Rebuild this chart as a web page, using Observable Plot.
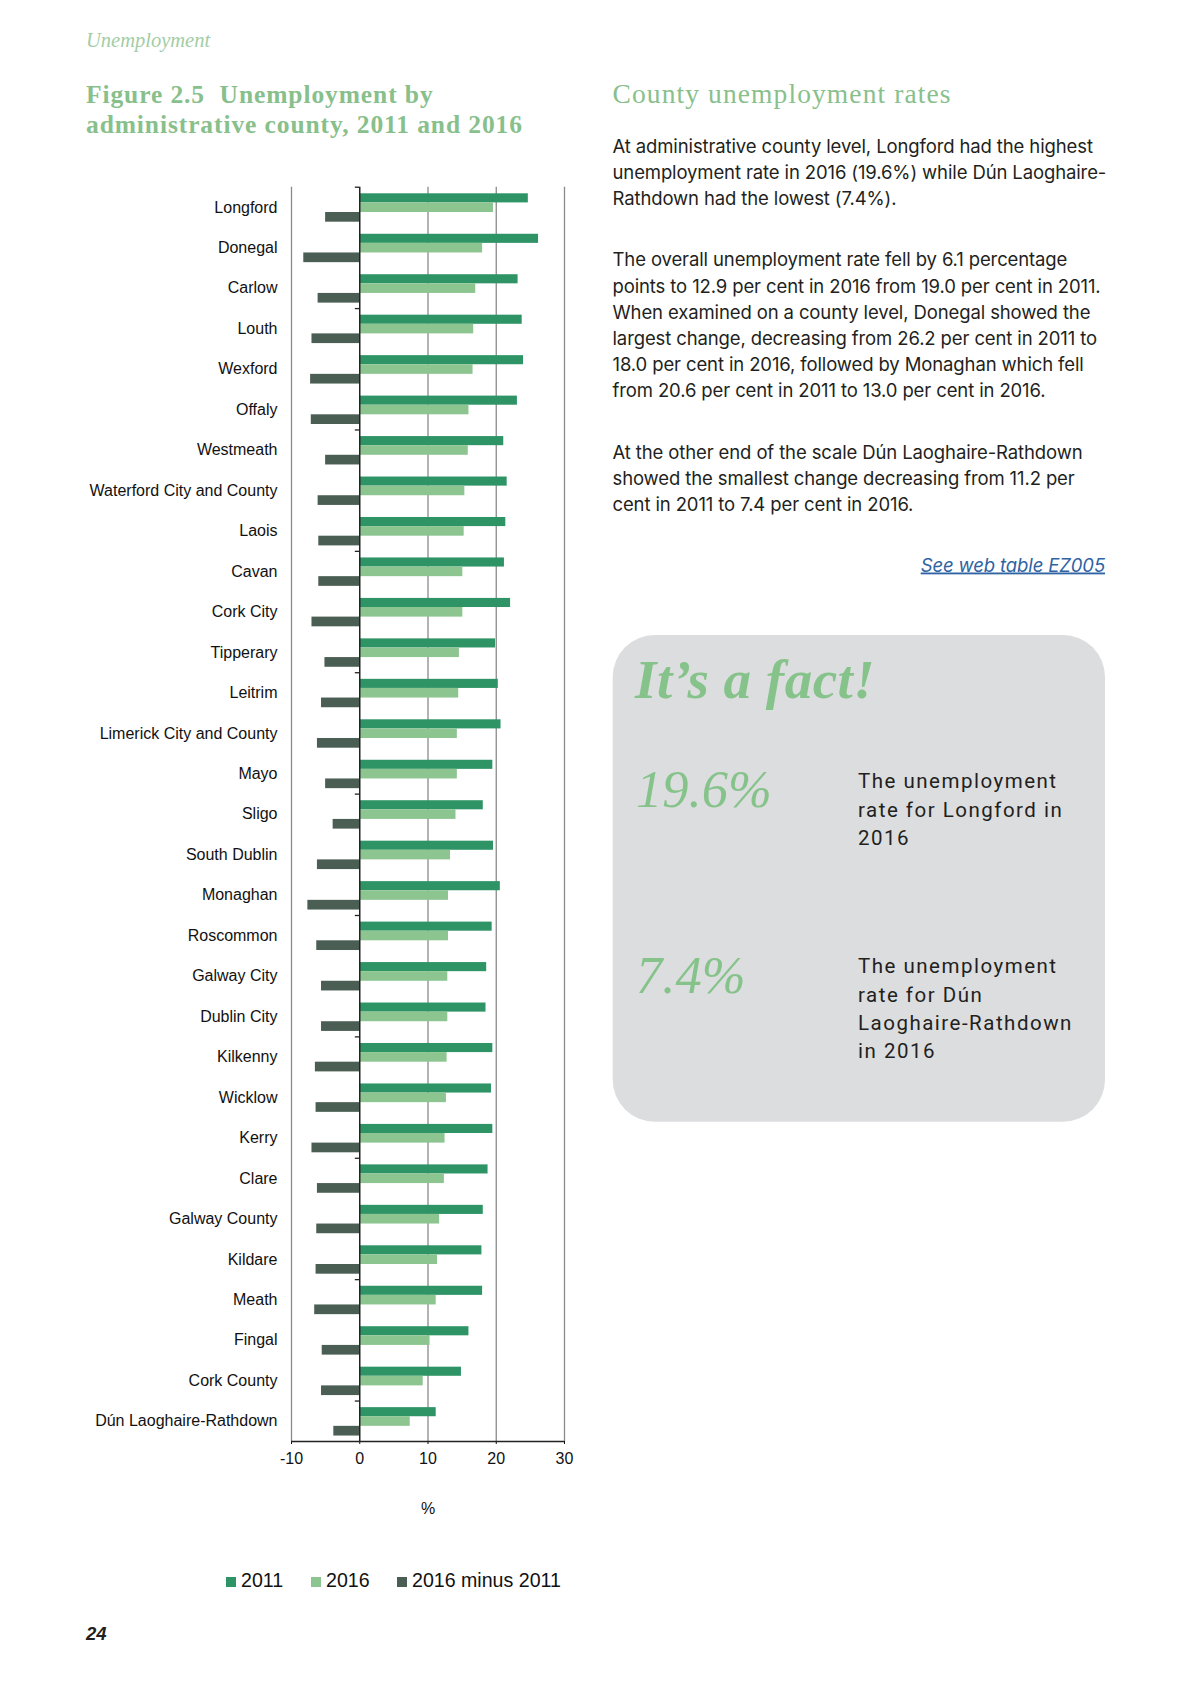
<!DOCTYPE html>
<html>
<head>
<meta charset="utf-8">
<script src="https://cdn.jsdelivr.net/npm/d3@7"></script>
<script src="https://cdn.jsdelivr.net/npm/@observablehq/plot@0.6"></script>
<style>
  html, body { margin: 0; padding: 0; background: #fff; }
  #page { position: relative; width: 1191px; height: 1684px; overflow: hidden; background: #fff; }
  #chart { position: absolute; left: 0; top: 150px; }
  #overlay { position: absolute; left: 0; top: 0; }
  #overlay text { white-space: pre; }
</style>
</head>
<body>
<div id="page">
<svg id="overlay" width="1191" height="1684" xmlns="http://www.w3.org/2000/svg">
  <text x="86" y="47" font-family="Liberation Serif" font-style="italic" font-size="20.5" fill="#a3cda5">Unemployment</text>
  <g font-family="Liberation Serif" font-weight="bold" font-size="25.5" fill="#88c08c" letter-spacing="0.9">
    <text x="86" y="103">Figure 2.5  Unemployment by</text>
    <text x="86" y="133">administrative county, 2011 and 2016</text>
  </g>
  <text x="612.5" y="103" font-family="Liberation Serif" font-size="27.5" fill="#88c08c" letter-spacing="1.1">County unemployment rates</text>
  <g font-family="Inter" font-size="18.5" fill="#231f20" letter-spacing="-0.12">
    <text x="612.5" y="153.3">At administrative county level, Longford had the highest</text>
    <text x="612.5" y="179.3">unemployment rate in 2016 (19.6%) while Dún Laoghaire-</text>
    <text x="612.5" y="205.3">Rathdown had the lowest (7.4%).</text>
    <text x="612.5" y="266">The overall unemployment rate fell by 6.1 percentage</text>
    <text x="612.5" y="292.5">points to 12.9 per cent in 2016 from 19.0 per cent in 2011.</text>
    <text x="612.5" y="318.7">When examined on a county level, Donegal showed the</text>
    <text x="612.5" y="344.8">largest change, decreasing from 26.2 per cent in 2011 to</text>
    <text x="612.5" y="371">18.0 per cent in 2016, followed by Monaghan which fell</text>
    <text x="612.5" y="397.2">from 20.6 per cent in 2011 to 13.0 per cent in 2016.</text>
    <text x="612.5" y="458.7">At the other end of the scale Dún Laoghaire-Rathdown</text>
    <text x="612.5" y="484.8">showed the smallest change decreasing from 11.2 per</text>
    <text x="612.5" y="511">cent in 2011 to 7.4 per cent in 2016.</text>
    <text x="1105" y="571.5" text-anchor="end" font-style="italic" fill="#2f63a3" text-decoration="underline">See web table EZ005</text>
  </g>
  <rect x="612.7" y="635" width="492.3" height="486.7" rx="42" ry="42" fill="#dcdddf"/>
  <text x="635" y="698" font-family="Liberation Serif" font-style="italic" font-weight="bold" font-size="55" fill="#86c38b" letter-spacing="0.5">It’s a fact!</text>
  <text x="636" y="806.7" font-family="Liberation Serif" font-style="italic" font-size="52.5" fill="#86c38b">19.6%</text>
  <text x="636" y="993.3" font-family="Liberation Serif" font-style="italic" font-size="52.5" fill="#86c38b">7.4%</text>
  <g font-family="Roboto" font-size="20.5" fill="#231f20" letter-spacing="1.5">
    <text x="858" y="788.3">The unemployment</text>
    <text x="858" y="816.7">rate for Longford in</text>
    <text x="858" y="845">2016</text>
    <text x="858" y="973.3">The unemployment</text>
    <text x="858" y="1001.7">rate for Dún</text>
    <text x="858" y="1030">Laoghaire-Rathdown</text>
    <text x="858" y="1058.3">in 2016</text>
  </g>
  <text x="86" y="1640" font-family="Liberation Sans" font-style="italic" font-weight="bold" font-size="18.5" fill="#231f20">24</text>
  <g id="legend" font-family="Liberation Sans" font-size="19.6" fill="#111"></g>
</svg>
<div id="chart"></div>
</div>
<script>
const counties = ["Longford","Donegal","Carlow","Louth","Wexford","Offaly","Westmeath","Waterford City and County","Laois","Cavan","Cork City","Tipperary","Leitrim","Limerick City and County","Mayo","Sligo","South Dublin","Monaghan","Roscommon","Galway City","Dublin City","Kilkenny","Wicklow","Kerry","Clare","Galway County","Kildare","Meath","Fingal","Cork County","Dún Laoghaire-Rathdown"];
const v2011 = [24.7,26.2,23.2,23.8,24.0,23.1,21.1,21.6,21.4,21.2,22.1,19.9,20.3,20.7,19.5,18.1,19.6,20.6,19.4,18.6,18.5,19.5,19.3,19.5,18.8,18.1,17.9,18.0,16.0,14.9,11.2];
const v2016 = [19.6,18.0,17.0,16.7,16.6,16.0,15.9,15.4,15.3,15.1,15.1,14.6,14.5,14.3,14.3,14.1,13.3,13.0,13.0,12.9,12.9,12.8,12.7,12.5,12.4,11.7,11.4,11.2,10.3,9.3,7.4];
const vDiff = [-5.0,-8.2,-6.1,-7.0,-7.2,-7.1,-5.0,-6.1,-6.0,-6.0,-7.0,-5.1,-5.6,-6.2,-5.0,-3.9,-6.2,-7.6,-6.3,-5.6,-5.6,-6.5,-6.4,-7.0,-6.2,-6.3,-6.4,-6.6,-5.5,-5.6,-3.8];
const seriesNames = ["2011","2016","2016 minus 2011"];
const seriesColors = ["#2e9466","#8cc590","#4b5e53"];
const xTicks = [-10,0,10,20,30];
const gridValues = [-10,10,20,30];

const rows = counties.map((c,i) => ({county: c, a: v2011[i], b: v2016[i], d: vDiff[i]}));
const band = 1254.3 / counties.length;
const tickRows = counties.filter((c,i) => i % 3 === 0);

const chart = Plot.plot({
  width: 600,
  height: 1371,
  marginLeft: 291,
  marginRight: 36,
  marginTop: 36.7,
  marginBottom: 80,
  style: {fontFamily: "'Liberation Sans', Arial, sans-serif", fontSize: "16px", color: "#111", background: "transparent"},
  x: {domain: [-10, 30], ticks: xTicks, tickFormat: d => String(d), tickSize: 3, tickPadding: 8, label: null},
  y: {domain: counties, padding: 0, round: false, tickSize: 0, tickPadding: 14, label: null},
  marks: [
    Plot.ruleX(gridValues, {stroke: "#8a8a8a", strokeWidth: 1.3}),
    Plot.barX(rows, {y: "county", x1: 0, x2: "a", fill: seriesColors[0], insetTop: 6.6, insetBottom: band - 15.7}),
    Plot.barX(rows, {y: "county", x1: 0, x2: "b", fill: seriesColors[1], insetTop: 15.7, insetBottom: band - 25.3}),
    Plot.barX(rows, {y: "county", x1: 0, x2: "d", fill: seriesColors[2], insetTop: 25.3, insetBottom: band - 35}),
    Plot.ruleX([0], {stroke: "#222", strokeWidth: 1.5}),
    Plot.ruleY(tickRows, {y: d => d, x1: -0.65, x2: 0, dy: -band / 2, stroke: "#222", strokeWidth: 1.3}),
    Plot.ruleY([counties[counties.length - 1]], {y: d => d, dy: band / 2, stroke: "#222", strokeWidth: 1.5}),
    Plot.text(["%"], {text: d => d, frameAnchor: "bottom", dy: 72, fontSize: 16, fill: "#111"})
  ]
});
document.getElementById("chart").appendChild(chart);

// legend
const lg = d3.select("#legend");
const lx = [226, 311, 397];
seriesNames.forEach((s, i) => {
  lg.append("rect").attr("x", lx[i]).attr("y", 1577).attr("width", 10).attr("height", 10).attr("fill", seriesColors[i]);
  lg.append("text").attr("x", lx[i] + 15).attr("y", 1587).text(s);
});
</script>
</body>
</html>
